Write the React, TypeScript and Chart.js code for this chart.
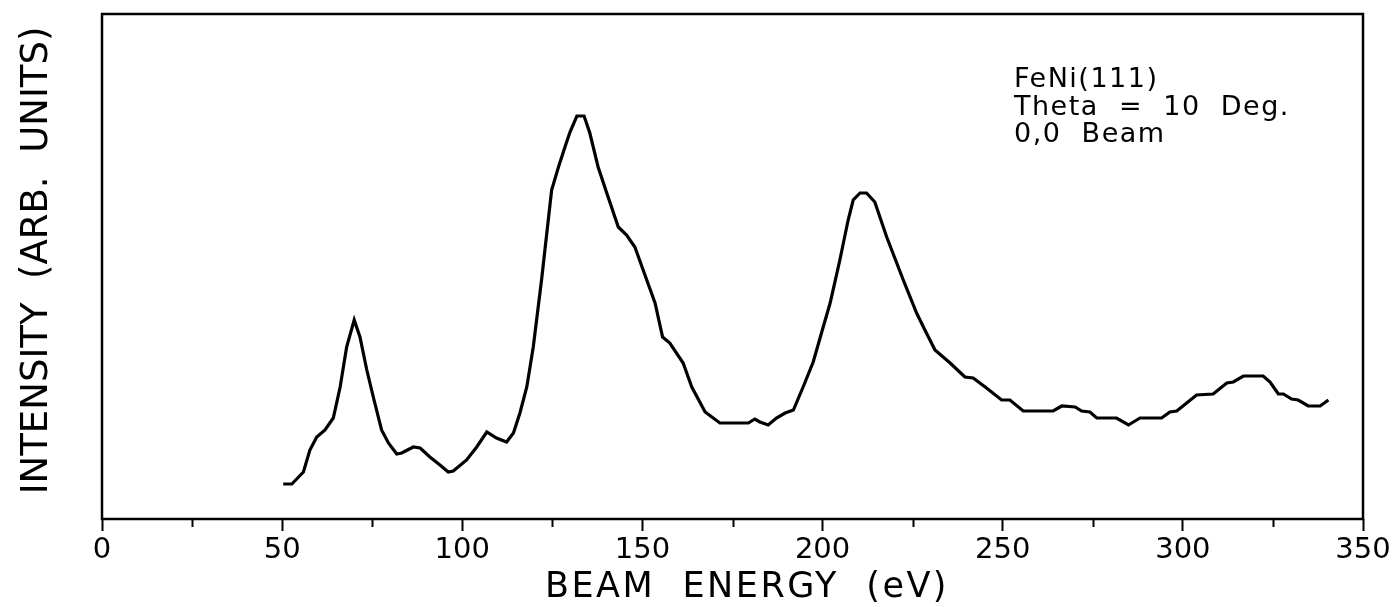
import React, { useEffect, useRef } from "react";
import { Chart, registerables } from "chart.js";

Chart.register(...registerables);

// Beam energy (eV) of each sampled point of the I(V) curve
const energy = [
  50.3, 52.7, 55.9, 57.7, 59.6, 61.9, 64.2, 66.1, 67.9, 70.0, 71.6, 73.5, 75.3, 77.6, 79.5, 81.8,
  83.2, 86.4, 88.3, 91.0, 93.8, 96.1, 97.5, 101.2, 104.0, 106.8, 109.5, 112.3, 114.2, 116.0, 117.9,
  119.7, 122.0, 124.8, 126.7, 128.5, 129.9, 131.8, 133.8, 135.4, 137.7, 140.1, 143.3, 145.6, 147.9,
  151.2, 153.5, 155.6, 157.6, 161.3, 163.7, 167.4, 171.5, 179.4, 181.2, 182.6, 184.9, 187.2, 189.6,
  191.9, 194.6, 197.4, 199.7, 202.1, 204.8, 207.1, 208.5, 210.4, 212.2, 214.5, 217.8, 222.4, 226.1,
  228.4, 231.2, 235.4, 239.5, 241.8, 245.5, 249.7, 252.0, 255.7, 264.0, 266.4, 270.1, 271.9, 274.2,
  276.1, 281.6, 284.9, 288.1, 294.1, 296.4, 298.3, 303.8, 308.4, 312.2, 314.0, 316.8, 322.3, 324.2,
  326.5, 327.9, 330.2, 332.0, 334.8, 338.1, 340.4,
];

// Diffracted (0,0) beam intensity, arbitrary units
const intensity = [
  35, 35, 47, 69, 82, 89, 101, 132, 172, 199, 182, 149, 122, 89, 76, 65,
  66, 72, 71, 62, 54, 47, 48, 59, 72, 87, 81, 77, 86, 106, 132,
  172, 239, 329, 352, 372, 387, 403, 403, 386, 352, 326, 292, 284, 272,
  239, 216, 182, 176, 156, 132, 107, 96, 96, 100, 97, 94, 101, 106,
  109, 132, 157, 186, 216, 259, 299, 319, 326, 326, 317, 282, 239, 206,
  189, 169, 156, 142, 141, 131, 119, 119, 108, 108, 113, 112, 108, 107,
  101, 101, 94, 101, 101, 107, 108, 124, 125, 136, 137, 143, 143, 137,
  125, 125, 120, 119, 113, 113, 119,
];

const majorTicks = [0, 50, 100, 150, 200, 250, 300, 350];
const minorTicks = [25, 75, 125, 175, 225, 275, 325];

const xTitle = "BEAM  ENERGY  (eV)";
const yTitle = "INTENSITY  (ARB.  UNITS)";
const notes = ["FeNi(111)", "Theta  =  10  Deg.", "0,0  Beam"];

const FONT = "'DejaVu Sans', sans-serif";

const framePlugin = {
  id: "frameAndText",
  afterDraw(chart: any) {
    const { ctx, chartArea } = chart;
    const xs = chart.scales.x;
    ctx.save();
    ctx.strokeStyle = "#000";
    ctx.lineWidth = 2.5;
    ctx.strokeRect(chartArea.left, chartArea.top, chartArea.right - chartArea.left, chartArea.bottom - chartArea.top);

    // minor ticks
    ctx.lineWidth = 2;
    for (const v of minorTicks) {
      const px = Math.round(xs.getPixelForValue(v)) + 0.5;
      ctx.beginPath();
      ctx.moveTo(px, chartArea.bottom);
      ctx.lineTo(px, chartArea.bottom + 8);
      ctx.stroke();
    }

    ctx.fillStyle = "#000";
    // x title
    ctx.font = `35px ${FONT}`;
    ctx.letterSpacing = "2.5px";
    ctx.textAlign = "center";
    ctx.textBaseline = "alphabetic";
    ctx.fillText(xTitle, 747, 597);

    // y title
    ctx.letterSpacing = "0px";
    ctx.font = `37px ${FONT}`;
    ctx.save();
    ctx.translate(47, (chartArea.top + chartArea.bottom) / 2 - 6);
    ctx.rotate(-Math.PI / 2);
    ctx.fillText(yTitle, 0, 0);
    ctx.restore();

    // annotation block
    ctx.font = `27px ${FONT}`;
    ctx.letterSpacing = "1.5px";
    ctx.textAlign = "left";
    notes.forEach((t, i) => ctx.fillText(t, 1014, 87 + i * 27.5));
    ctx.restore();
  },
};

export default function App() {
  const ref = useRef<HTMLCanvasElement | null>(null);

  useEffect(() => {
    const canvas = ref.current;
    if (!canvas) return;
    const chart = new Chart(canvas, {
      type: "line",
      data: {
        datasets: [
          {
            data: energy.map((e, i) => ({ x: e, y: intensity[i] })),
            borderColor: "#000",
            borderWidth: 3.2,
            pointRadius: 0,
            tension: 0,
            fill: false,
          },
        ],
      },
      options: {
        responsive: false,
        animation: false,
        layout: { padding: { top: 14, right: 32, left: 0, bottom: 0 } },
        plugins: { legend: { display: false }, tooltip: { enabled: false } },
        scales: {
          x: {
            type: "linear",
            min: 0,
            max: 350,
            afterFit: (s: any) => {
              s.height = 88;
            },
            afterBuildTicks: (s: any) => {
              s.ticks = majorTicks.map((v) => ({ value: v }));
            },
            grid: {
              drawOnChartArea: false,
              drawTicks: true,
              tickLength: 12,
              tickWidth: 2,
              tickColor: "#000",
            },
            border: { display: false },
            ticks: {
              color: "#000",
              padding: 2,
              maxRotation: 0,
              autoSkip: false,
              font: { family: FONT, size: 29 },
            },
          },
          y: {
            min: 0,
            max: 505,
            afterFit: (s: any) => {
              s.width = 102;
            },
            grid: { display: false },
            border: { display: false },
            ticks: { display: false },
          },
        },
      },
      plugins: [framePlugin],
    });
    return () => chart.destroy();
  }, []);

  return (
    <div style={{ position: "absolute", left: 0, top: 0, width: 1395, height: 607, background: "#fff" }}>
      <canvas ref={ref} width={1395} height={607} />
    </div>
  );
}
